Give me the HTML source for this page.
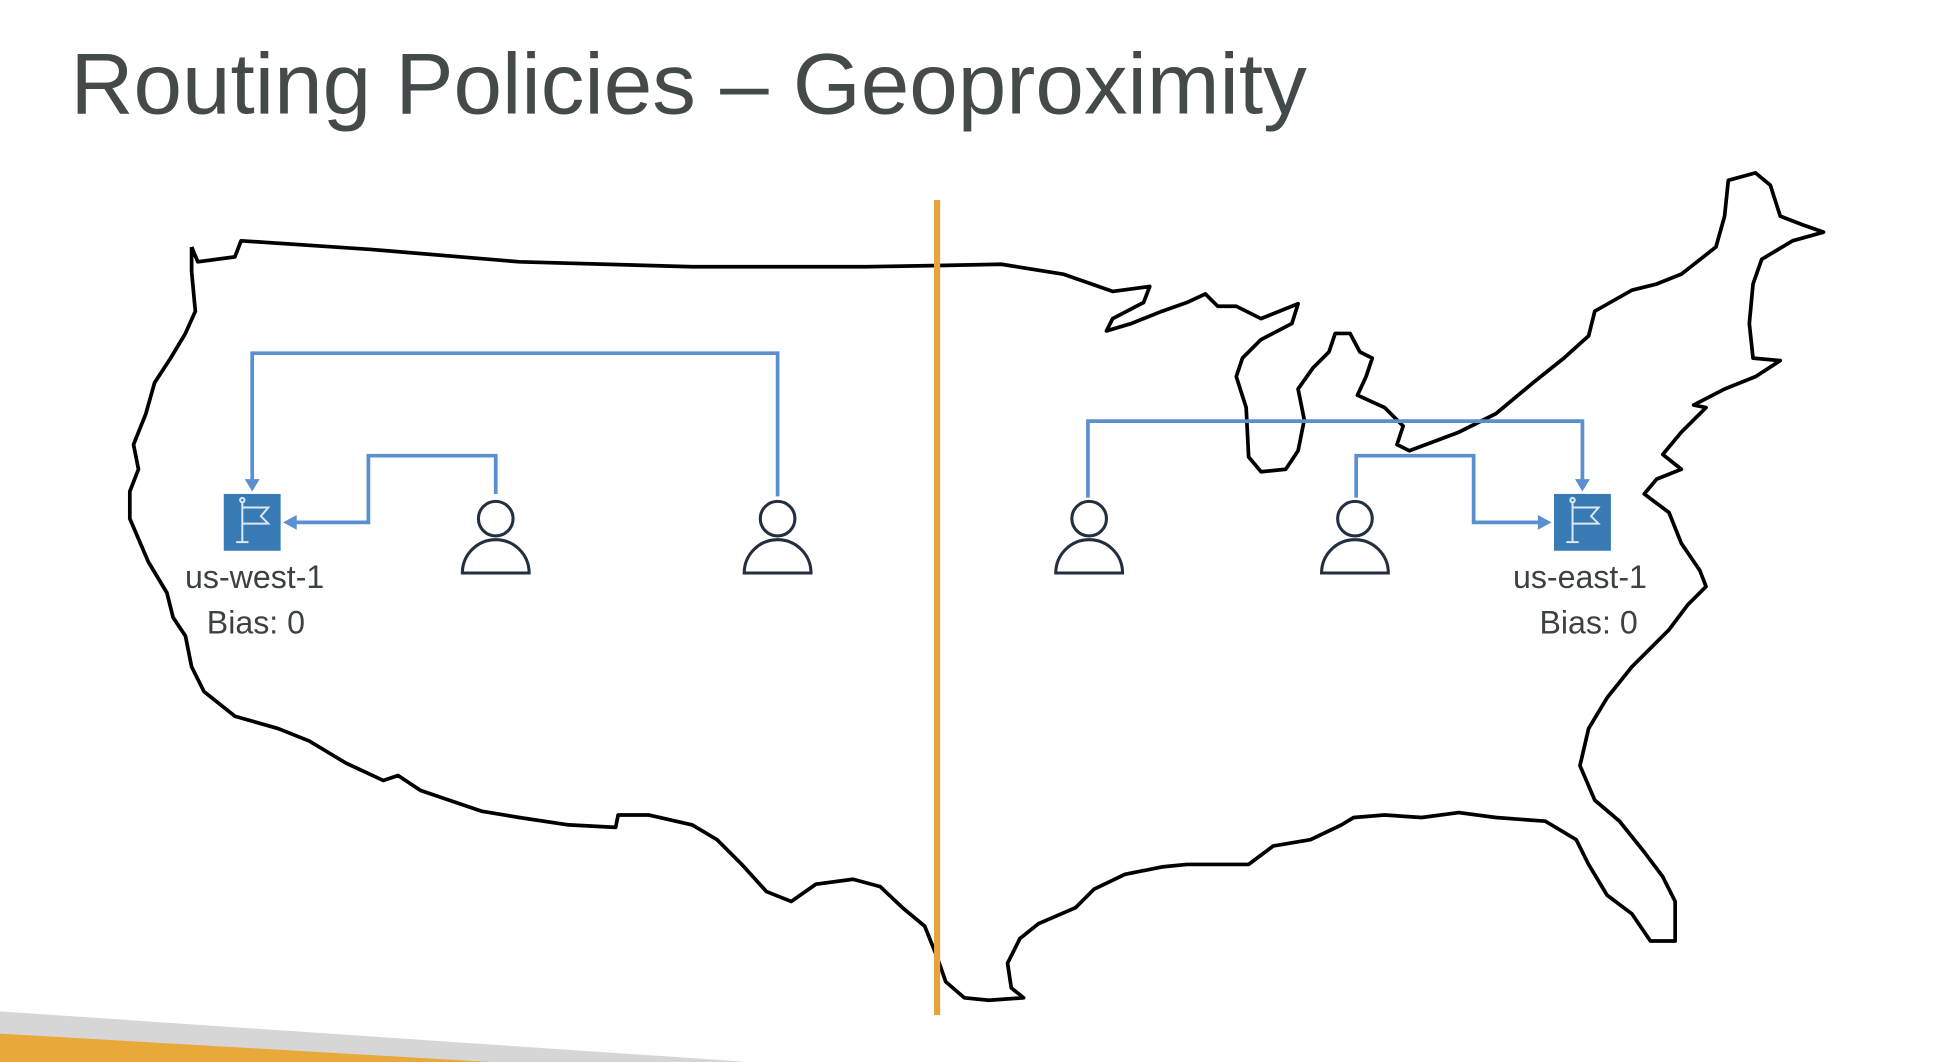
<!DOCTYPE html>
<html><head><meta charset="utf-8"><style>
html,body{margin:0;padding:0;background:#fff;}
svg{display:block;}
</style></head><body>
<svg width="1936" height="1062" viewBox="0 0 1566 860" preserveAspectRatio="none" xmlns="http://www.w3.org/2000/svg">
<rect width="1566" height="860" fill="#fff"/>
<text x="57" y="92" font-family="Liberation Sans, sans-serif" font-size="70" fill="#444a4a" textLength="1000" lengthAdjust="spacingAndGlyphs">Routing Policies – Geoproximity</text>
<polyline fill="none" stroke="#000" stroke-width="3" stroke-linejoin="round" points="
155,200 160,212 190,208 195,195 300,202 420,212 560,216 700,216 760,215 810,214 860,222 900,236 930,232 925,245 900,258 895,268 915,262 940,252 960,245 975,238 985,248 1000,248 1020,258 1050,246 1045,262 1020,275 1005,290 1000,305 1008,330 1010,370 1020,382 1040,380 1050,365 1055,340 1050,315 1062,298 1075,285 1080,270 1092,270 1100,285 1110,290 1105,305 1098,320 1120,330 1135,345 1130,360 1140,365 1180,350 1210,335 1240,310 1265,290 1285,272 1290,252 1320,235 1340,230 1360,222 1388,200 1395,175 1398,146 1420,140 1432,150 1440,175 1458,182 1475,188 1450,195 1425,210 1418,230 1415,262 1418,290 1440,292 1420,305 1395,315 1370,328 1380,330 1360,350 1345,368 1360,380 1340,388 1330,400 1350,415 1360,440 1375,462 1380,475 1365,490 1350,510 1320,540 1300,565 1285,590 1278,620 1290,648 1310,665 1330,690 1345,710 1355,730 1355,762 1335,762 1320,740 1300,725 1285,700 1275,680 1250,665 1210,662 1180,658 1150,662 1120,660 1095,662 1085,668 1060,680 1030,685 1010,700 990,700 960,700 940,702 910,708 885,720 870,735 840,748 825,760 815,780 818,800 828,808 800,810 780,808 765,795 758,775 748,750 730,735 712,718 690,712 660,716 640,730 620,722 600,700 580,680 560,668 525,660 500,660 498,670 460,668 420,662 390,657 340,640 322,628 310,632 280,618 250,600 225,590 190,580 165,560 155,540 150,515 140,500 135,480 120,455 105,420 105,398 112,380 108,360 118,335 125,310 138,290 150,270 158,252 155,220 155,200"/>
<line x1="758" y1="162" x2="758" y2="822" stroke="#E8A33D" stroke-width="5"/>
<g fill="none" stroke="#5b8fd0" stroke-width="3">
<polyline points="629,402 629,286 204,286 204,390"/>
<polyline points="401,400 401,369 298,369 298,423 238,423"/>
<polyline points="880,403 880,341 1280,341 1280,390"/>
<polyline points="1097,403 1097,369 1192,369 1192,423 1246,423"/>
</g>
<g fill="#5b8fd0">
<polygon points="198,388 210,388 204,398"/>
<polygon points="240,417 240,429 229,423"/>
<polygon points="1274,388 1286,388 1280,398"/>
<polygon points="1244,417 1244,429 1255,423"/>
</g>
<g>
<rect x="181" y="400" width="46" height="46" fill="#387ab4"/>
<g stroke="#dce8f4" stroke-width="1.6" fill="none"><line x1="196" y1="406" x2="196" y2="439"/><line x1="191" y1="439" x2="201" y2="439"/><polyline points="196,411 217,411 211,418 217,424 196,424"/><circle cx="196" cy="405" r="1.8"/></g>
<rect x="1257" y="400" width="46" height="46" fill="#387ab4"/>
<g stroke="#dce8f4" stroke-width="1.6" fill="none"><line x1="1272" y1="406" x2="1272" y2="439"/><line x1="1267" y1="439" x2="1277" y2="439"/><polyline points="1272,411 1293,411 1287,418 1293,424 1272,424"/><circle cx="1272" cy="405" r="1.8"/></g>
</g>
<g fill="none" stroke="#232f3e" stroke-width="2.5">
<g transform="translate(401,0)"><circle cx="0" cy="420" r="14"/><path d="M-27,464 A27,27 0 0 1 27,464 Z"/></g>
<g transform="translate(629,0)"><circle cx="0" cy="420" r="14"/><path d="M-27,464 A27,27 0 0 1 27,464 Z"/></g>
<g transform="translate(881,0)"><circle cx="0" cy="420" r="14"/><path d="M-27,464 A27,27 0 0 1 27,464 Z"/></g>
<g transform="translate(1096,0)"><circle cx="0" cy="420" r="14"/><path d="M-27,464 A27,27 0 0 1 27,464 Z"/></g>
</g>
<g font-family="Liberation Sans, sans-serif" font-size="26" fill="#3c4242" text-anchor="middle">
<text x="206" y="476">us-west-1</text>
<text x="207" y="513">Bias: 0</text>
<text x="1278" y="476">us-east-1</text>
<text x="1285" y="513">Bias: 0</text>
</g>
<polygon points="0,819 606,860 0,860" fill="#d6d6d6"/>
<polygon points="0,837 397,860 0,860" fill="#E8A83A"/>
</svg>
</body></html>
